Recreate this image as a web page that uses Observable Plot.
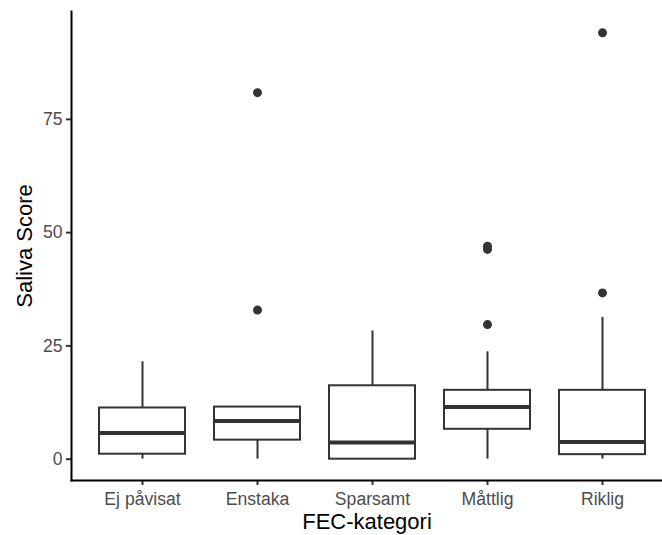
<!DOCTYPE html>
<html>
<head>
<meta charset="utf-8">
<script src="https://cdn.jsdelivr.net/npm/d3@7"></script>
<script src="https://cdn.jsdelivr.net/npm/@observablehq/plot@0.6"></script>
<style>
  html, body { margin: 0; padding: 0; background: #fff; overflow: hidden; }
  #chart { width: 662px; height: 535px; }
</style>
</head>
<body>
<div id="chart"></div>
<script>
const categories = ["Ej påvisat", "Enstaka", "Sparsamt", "Måttlig", "Riklig"];
const lowerWhisker = [0, 0, 0, 0, 0];
const q1 = [1.1, 4.2, 0, 6.6, 1.0];
const medians = [5.8, 8.4, 3.7, 11.5, 3.8];
const q3 = [11.3, 11.5, 16.2, 15.2, 15.2];
const upperWhisker = [21.5, 11.5, 28.3, 23.7, 31.3];
const outlierCategory = ["Enstaka", "Enstaka", "Måttlig", "Måttlig", "Måttlig", "Riklig", "Riklig"];
const outlierValue = [32.9, 80.9, 29.7, 46.3, 47.0, 36.7, 94.1];
const yTicks = [0, 25, 50, 75];
const xTitle = "FEC-kategori";
const yTitle = "Saliva Score";

const boxes = categories.map((c, i) => ({
  cat: c, lo: lowerWhisker[i], q1: q1[i], med: medians[i], q3: q3[i], hi: upperWhisker[i]
}));
const outliers = outlierCategory.map((c, i) => ({cat: c, value: outlierValue[i]}));

const allVals = [...lowerWhisker, ...upperWhisker, ...outlierValue];
const yMin = d3.min(allVals), yMax = d3.max(allVals);
const pad = (yMax - yMin) * 0.05;

const boxStroke = "#333333";

const chart = Plot.plot({
  width: 662,
  height: 535,
  marginLeft: 71,
  marginRight: 0,
  marginTop: 11,
  marginBottom: 55,
  style: {fontFamily: "'Liberation Sans', Arial, Helvetica, sans-serif", background: "#ffffff"},
  x: {type: "band", domain: categories, range: [71, 673], paddingInner: 0.25, paddingOuter: 0.225, align: 0.5},
  y: {domain: [yMin - pad, yMax + pad]},
  marks: [
    // whiskers
    Plot.ruleX(boxes, {x: "cat", y1: "lo", y2: "q1", stroke: boxStroke, strokeWidth: 2}),
    Plot.ruleX(boxes, {x: "cat", y1: "q3", y2: "hi", stroke: boxStroke, strokeWidth: 2}),
    // boxes
    Plot.barY(boxes, {x: "cat", y1: "q1", y2: "q3", fill: "white", stroke: boxStroke, strokeWidth: 2}),
    // medians
    Plot.tickY(boxes, {x: "cat", y: "med", stroke: boxStroke, strokeWidth: 4}),
    // outliers
    Plot.dot(outliers, {x: "cat", y: "value", r: 4.5, fill: boxStroke, stroke: "none"}),
    // axes
    Plot.axisX({tickSize: 5, tickPadding: 7, fontSize: 17.6, fill: "#4D4D4D", stroke: boxStroke, strokeWidth: 2, label: null}),
    Plot.axisY({ticks: yTicks, tickSize: 5, tickPadding: 4, fontSize: 17.6, fill: "#4D4D4D", stroke: boxStroke, strokeWidth: 2, label: null, tickFormat: d3.format("d")}),
    Plot.frame({anchor: "left", stroke: "black", strokeWidth: 2}),
    Plot.frame({anchor: "bottom", stroke: "black", strokeWidth: 2}),
    // titles
    Plot.text([xTitle], {frameAnchor: "bottom", dy: 41, fontSize: 22, fill: "black", textAnchor: "middle", lineAnchor: "middle", dx: 0}),
    Plot.text([yTitle], {frameAnchor: "left", dx: -47, rotate: -90, fontSize: 22, fill: "black", textAnchor: "middle", lineAnchor: "middle"})
  ]
});
document.getElementById("chart").appendChild(chart);
</script>
</body>
</html>
